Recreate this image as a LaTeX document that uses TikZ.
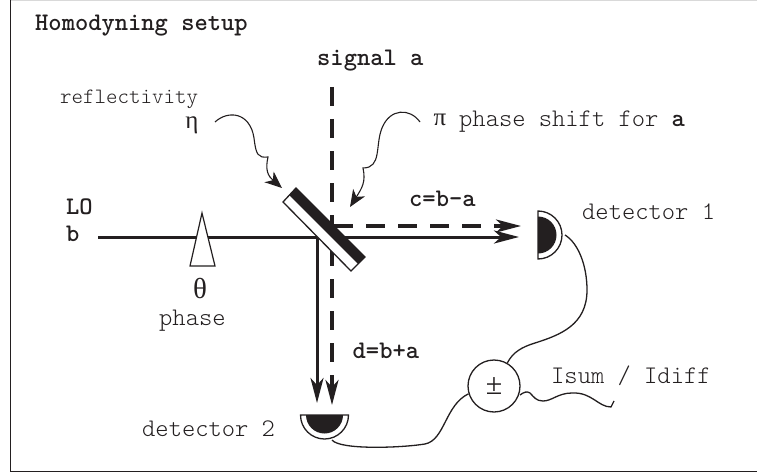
\documentclass[tikz,border=0pt]{standalone}
\usepackage{fontspec}
\newfontfamily\grk{Liberation Serif}
\usetikzlibrary{arrows.meta}
\definecolor{ink}{RGB}{35,31,32}
\tikzset{
  x=1pt,y=-1pt,
  beam/.style={draw=ink,line width=3pt},
  dashbeam/.style={draw=ink,line width=3.2pt,dash pattern=on 19pt off 13pt},
  tip/.style={-{Stealth[length=25pt,width=13pt,inset=7pt]}},
  wire/.style={draw=ink,line width=1.3pt},
  squig/.style={draw=ink,line width=1.1pt,-{Stealth[length=17pt,width=14pt,inset=5pt]}},
  txt/.style={inner sep=0pt,anchor=base west,text=ink,font=\fontsize{25.3pt}{28pt}\ttfamily\fontseries{l}\selectfont},
  smalltxt/.style={txt,font=\fontsize{21.9pt}{24pt}\ttfamily\fontseries{l}\selectfont},
  btxt/.style={inner sep=0pt,anchor=base west,text=ink,font=\fontsize{25.3pt}{28pt}\ttfamily\bfseries\selectfont},
  gtxt/.style={inner sep=0pt,text=ink,font=\fontsize{25pt}{28pt}\selectfont\grk},
}
\begin{document}
\begin{tikzpicture}
\useasboundingbox (0,0) rectangle (757,476);
\draw[draw=black!15,line width=1pt] (10.5,0.5) -- (757,0.5);
\draw[draw=ink,line width=1.4pt] (10.5,0) -- (10.5,471.5) -- (757,471.5);
\node[btxt] (title) at (35,31) {Homodyning setup};
\node[btxt] (siglab) at (317,66) {signal a};
\node[smalltxt] (refl) at (60,104) {reflectivity};
\node[gtxt] (eta) at (192,125) {η};
\node[gtxt] (pi) at (440,120) {π};
\node[txt] (pilab) at (459,127) {phase shift for {\bfseries a}};
\node[btxt] (clab) at (409,206) {c=b-a};
\node[txt] (d1lab) at (582,219) {detector 1};
\node[btxt] (lo) at (66,214) {LO};
\node[btxt] (blab) at (66,241) {b};
\node[gtxt,font=\fontsize{29pt}{30pt}\selectfont\grk] (theta) at (200,289) {θ};
\node[txt] (phaselab) at (159,325) {phase};
\node[btxt] (dlab) at (352.5,358) {d=b+a};
\node[txt] (d2lab) at (142,436) {detector 2};
\node[txt] (isum) at (551,383) {Isum / Idiff};
% beams
\coordinate (lostart) at (98,237);
\coordinate (cross) at (317,237);
\coordinate (d1tipb) at (519,237);
\coordinate (d1tipa) at (521,226);
\coordinate (d2tipb) at (317,403);
\coordinate (d2tipa) at (332,405);
\coordinate (sigstart) at (332,87);
\draw[beam,tip] (lostart) -- (d1tipb);
\draw[beam,tip] (cross) -- (d2tipb);
\draw[dashbeam] (sigstart) -- (332,396);
\draw[draw=ink,line width=3.2pt,tip] (332,390) -- (d2tipa);
\draw[dashbeam] (334,226) -- (505,226);
\draw[draw=ink,line width=3.2pt,tip] (500,226) -- (d1tipa);
% phase wedge
\draw[fill=white,draw=ink,line width=1.2pt,line join=miter] (202,213) -- (215,266) -- (190,266) -- cycle;
% beam splitter
\draw[fill=white,draw=ink,line width=1.3pt] (296,188) -- (365,257) -- (351,271) -- (283,202) -- cycle;
\fill[ink] (296,188) -- (365,257) -- (358,264) -- (289,195) -- cycle;
% squiggly pointers
\coordinate (sqA) at (215,122);
\coordinate (sqAtip) at (282,188);
\coordinate (sqB) at (420,122);
\coordinate (sqBtip) at (350,207);
\draw[squig] (sqA) .. controls (228,110) and (250,112) .. (254,138)
  .. controls (256,155) and (258,158) .. (268,157)
  .. controls (265,170) and (268,176) .. (sqAtip);
\draw[squig] (sqB) .. controls (410,108) and (390,108) .. (382,128)
  .. controls (375,145) and (382,168) .. (363,168)
  .. controls (366,182) and (362,188) .. (sqBtip);
% detectors
\draw[fill=white,draw=ink,line width=1.3pt] (538,211) arc[start angle=-90,end angle=90,radius=24] -- cycle;
\fill[ink] (538,216.5) arc[start angle=-90,end angle=90,radius=18.5] -- cycle;
\draw[fill=white,draw=ink,line width=1.3pt] (300.5,415) arc[start angle=180,end angle=0,radius=24] -- cycle;
\fill[ink] (306,415) arc[start angle=180,end angle=0,radius=18.5] -- cycle;
% sum/difference
\node[circle,draw=ink,line width=1.3pt,fill=white,minimum size=52pt,inner sep=0pt,text=ink,font=\fontsize{30pt}{32pt}\selectfont\grk] (pm) at (494,386) {±};
% wires
\coordinate (w1) at (565,235);
\coordinate (w2) at (332,440);
\coordinate (w3) at (614,401);
\draw[wire] (w1) .. controls (578,243) and (587,265) .. (587,290)
  .. controls (587,325) and (560,335) .. (535,343)
  .. controls (522,347) and (513,352) .. (pm.60);
\draw[wire] (w2) .. controls (340,450) and (400,448) .. (425,444)
  .. controls (445,440) and (445,405) .. (pm.197);
\draw[wire] (520,395) .. controls (524,392) and (527,391) .. (530,393)
  .. controls (534,397) and (536,401) .. (543,401)
  .. controls (552,401) and (558,393) .. (572,393)
  .. controls (592,392) and (598,407) .. (611,407) -- (w3);
\end{tikzpicture}
\end{document}
